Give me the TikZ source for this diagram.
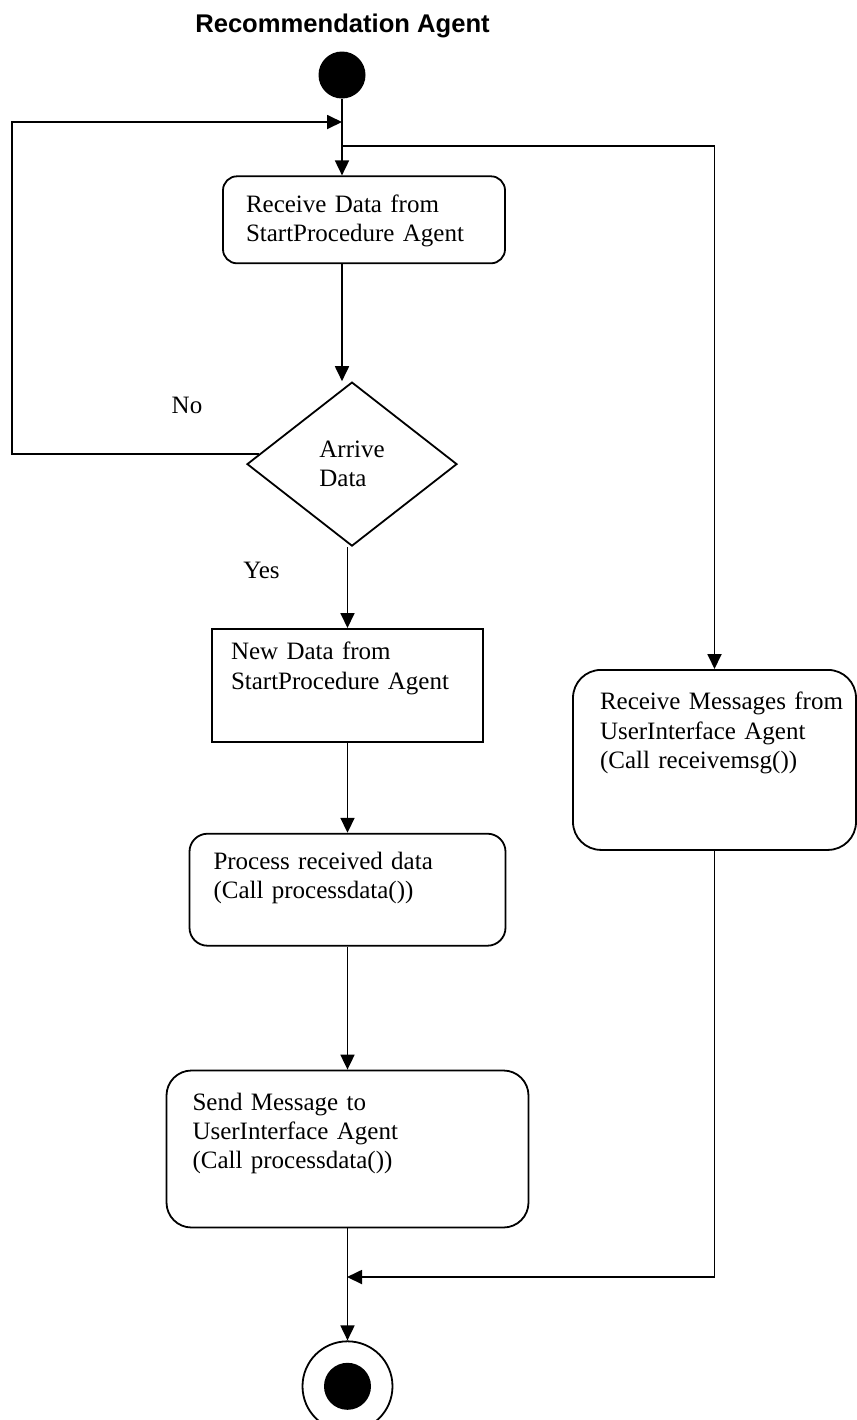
\documentclass[tikz,border=0pt]{standalone}
\usepackage{fontspec}
\setmainfont{Liberation Serif}
\newfontfamily\headfont{Liberation Sans}
\usepackage{tikz}
\usetikzlibrary{positioning, arrows.meta, shapes.geometric}

\begin{document}
\begin{tikzpicture}[x=0.5pt, y=-0.5pt, line width=0.9pt,
    every node/.style={font={\fontsize{12.5pt}{14.6pt}\selectfont}},
    act/.style={draw, align=left, inner ysep=0pt},
    flow/.style={-{Triangle[length=7.5pt, width=7pt]}}]
    \useasboundingbox (0,0) rectangle (857,1420);
    \node[font={\headfont\bfseries\fontsize{12.8pt}{15pt}\selectfont}, anchor=base] (title) at (342.5,32) {Recommendation Agent};
    \node[circle, fill, minimum size=23.5pt, inner sep=0pt] (start) at (342,75) {};
    \node[act, rounded corners=7pt, text width=118pt, inner xsep=11.5pt, text height=18pt, text depth=25.5pt, below=38pt of start, xshift=11pt] (recvdata) {Receive Data from\\StartProcedure Agent};
    \node[draw, diamond, minimum width=105pt, minimum height=82pt, inner sep=0pt, align=left, below=58.5pt of recvdata, xshift=-6pt] (arrive) {Arrive\\Data};
    \node[act, text width=116.5pt, inner xsep=9.5pt, text height=15.5pt, text depth=41pt, below=40.5pt of arrive, xshift=-2.25pt] (newdata) {New Data from\\StartProcedure Agent};
    \node[act, rounded corners=9pt, text width=134pt, inner xsep=12pt, text height=18pt, text depth=38pt, below=45pt of newdata] (process) {Process received data\\(Call processdata())};
    \node[act, rounded corners=12.5pt, text width=155pt, inner xsep=13pt, text height=20pt, text depth=58.5pt, below=61.5pt of process] (sendmsg) {Send Message to\\UserInterface Agent\\(Call processdata())};
    \node[act, rounded corners=14pt, text width=114.5pt, inner xsep=13.5pt, text height=20pt, text depth=70pt, anchor=north] (recvmsg) at (714.5,669) {\mbox{Receive Messages from}\\UserInterface Agent\\(Call receivemsg())};
    \node[draw, circle, minimum size=45pt, inner sep=0pt, below=56pt of sendmsg] (final) {};
    \node[circle, fill, minimum size=23.5pt, inner sep=0pt] (finaldot) at (final) {};
    \node[anchor=base] (nolbl) at (187,413) {No};
    \node[anchor=base] (yeslbl) at (261.5,578) {Yes};
    \coordinate (loopcorner) at (12,122);
    \coordinate (loopin) at (342,122);
    \coordinate (forkpt) at (342,146);
    \coordinate (joinpt) at (347,1277);
    \draw[flow] (start) -- (start |- recvdata.north);
    \draw[flow] (arrive.174) -| (loopcorner) -- (loopin);
    \draw[flow] (forkpt) -| (recvmsg.north);
    \draw[flow] (recvdata.south -| start) -- (arrive.north -| start);
    \draw[flow] (arrive.south -| newdata) -- (newdata.north);
    \draw[flow] (newdata) -- (process);
    \draw[flow] (process) -- (sendmsg);
    \draw[flow] (sendmsg) -- (final);
    \draw[flow] (recvmsg.south) |- (joinpt);
\end{tikzpicture}
\end{document}
